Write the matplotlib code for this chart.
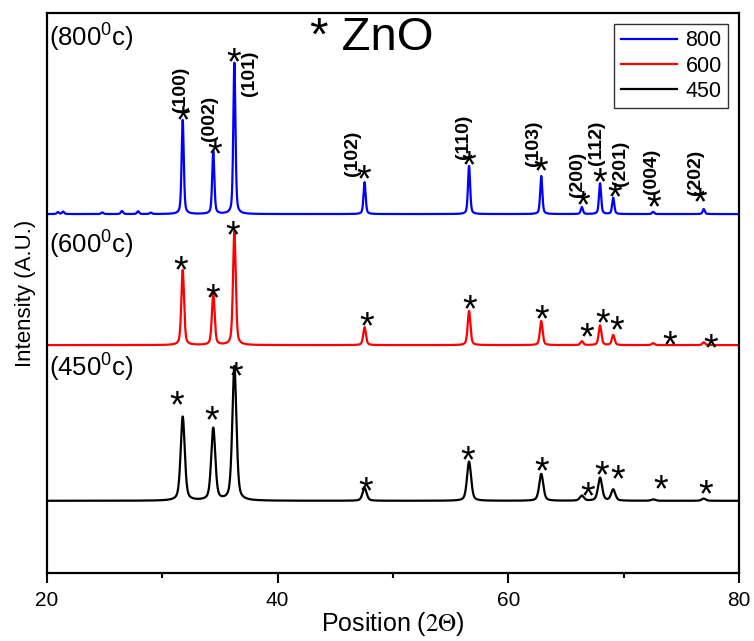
import numpy as np
import matplotlib
matplotlib.use("Agg")
import matplotlib.pyplot as plt
from matplotlib.ticker import MultipleLocator

plt.rcParams['font.family'] = ['Liberation Sans', 'DejaVu Sans']
plt.rcParams['mathtext.fontset'] = 'custom'
plt.rcParams['mathtext.rm'] = 'Liberation Sans'
plt.rcParams['mathtext.it'] = 'Liberation Sans:italic'
plt.rcParams['mathtext.bf'] = 'Liberation Sans:bold'

# ---- data ----
hkl = ['(100)', '(002)', '(101)', '(102)', '(110)', '(103)',
       '(200)', '(112)', '(201)', '(004)', '(202)']
peak_pos = [31.77, 34.42, 36.25, 47.54, 56.60, 62.86, 66.38, 67.96, 69.10, 72.56, 76.95]

series_names = ['800', '600', '450']
series_colors = ['#0000ff', '#ff0000', '#000000']
baselines = [64.1, 40.7, 12.9]
fwhm = [0.22, 0.28, 0.42]
heights_800 = [16.8, 11.2, 27.0, 5.7, 8.6, 6.8, 1.25, 5.5, 2.9, 0.4, 0.9]
heights_600 = [13.4, 9.3, 20.3, 3.2, 6.1, 4.3, 0.7, 3.5, 1.8, 0.35, 0.5]
heights_450 = [15.0, 12.9, 24.0, 2.3, 7.0, 4.8, 0.9, 4.1, 2.0, 0.25, 0.4]
heights = [heights_800, heights_600, heights_450]

# small impurity bumps seen on the 800 pattern
extra_pos_800 = [20.95, 21.4, 24.8, 26.5, 27.9, 29.0]
extra_h_800 = [0.35, 0.45, 0.3, 0.55, 0.5, 0.25]

# star marker positions (degrees, intensity units)
star_x = [[31.79, 34.57, 36.21, 47.49, 56.59, 62.83, 66.47, 67.95, 69.25, 72.63, 76.62],
          [31.62, 34.39, 36.13, 47.75, 56.68, 62.92, 66.82, 68.21, 69.42, 74.02, 77.57],
          [31.27, 34.31, 36.39, 47.66, 56.50, 62.92, 66.91, 68.12, 69.51, 73.24, 77.14]]
star_y = [[82.3, 76.1, 92.5, 71.6, 74.1, 73.2, 67.0, 71.1, 68.4, 66.6, 67.5],
          [55.5, 50.5, 61.6, 45.5, 48.4, 46.6, 43.4, 45.9, 44.8, 42.0, 41.6],
          [31.4, 28.6, 36.6, 15.9, 21.6, 19.6, 15.0, 18.9, 18.2, 16.3, 15.4]]

# hkl label positions (800 pattern)
label_x = [31.62, 34.13, 37.6, 46.53, 56.16, 62.23, 65.96, 67.69, 69.77, 72.46, 76.27]
label_y = [86.4, 81.1, 89.3, 75.0, 77.9, 76.8, 71.1, 76.8, 73.2, 71.8, 71.6]

temp_labels = ['(800$^{0}$c)', '(600$^{0}$c)', '(450$^{0}$c)']
temp_label_y = [0.955, 0.586, 0.366]


def pattern(x, centers, amps, w, base):
    y = np.full_like(x, base)
    for c, a in zip(centers, amps):
        g = np.exp(-4 * np.log(2) * ((x - c) / w) ** 2)
        l = 1.0 / (1.0 + 4 * ((x - c) / w) ** 2)
        y += a * (0.55 * g + 0.45 * l)
    return y


fig = plt.figure(figsize=(7.54, 6.41), dpi=100)
ax = fig.add_axes([0.0623, 0.106, 0.9177, 0.8737])

x = np.arange(20, 80.001, 0.01)
for i in range(3):
    cents = list(peak_pos)
    amps = list(heights[i])
    if i == 0:
        cents += extra_pos_800
        amps += extra_h_800
    y = pattern(x, cents, amps, fwhm[i], baselines[i])
    ax.plot(x, y, color=series_colors[i], lw=1.6, label=series_names[i])
    for sx, sy in zip(star_x[i], star_y[i]):
        ax.annotate('*', (sx, sy), xytext=(0, -7), textcoords='offset points',
                    fontsize=27, ha='center', va='center', color='black')
    ax.text(0.003, temp_label_y[i], temp_labels[i], transform=ax.transAxes,
            fontsize=18.5, ha='left', va='center')

for lx, ly, t in zip(label_x, label_y, hkl):
    ax.text(lx, ly, t, rotation=90, fontsize=14, fontweight='bold',
            ha='center', va='center')

ax.text(0.47, 0.955, '* ZnO', transform=ax.transAxes, fontsize=34,
        ha='center', va='center')

ax.set_xlim(20, 80)
ax.set_ylim(0, 100)
ax.xaxis.set_major_locator(MultipleLocator(20))
ax.xaxis.set_minor_locator(MultipleLocator(10))
ax.tick_params(axis='x', which='major', direction='out', length=7, width=1.5,
               labelsize=15, pad=6)
ax.tick_params(axis='x', which='minor', direction='out', length=3.5, width=1.5)
ax.set_yticks([])
for s in ax.spines.values():
    s.set_linewidth(1.6)

ax.set_xlabel('Position ($2\\Theta$)', fontsize=18, labelpad=0)
ax.xaxis.label.set_math_fontfamily('stix')
ax.set_ylabel('Intensity (A.U.)', fontsize=16, labelpad=8)

leg = ax.legend(loc='upper right', fontsize=15.5, frameon=True, fancybox=False,
                edgecolor='black', handlelength=2.6, borderaxespad=0.5,
                labelspacing=0.2, handletextpad=0.4, borderpad=0.3)
leg.get_frame().set_linewidth(1.0)

fig.savefig('out.png', dpi=100)
